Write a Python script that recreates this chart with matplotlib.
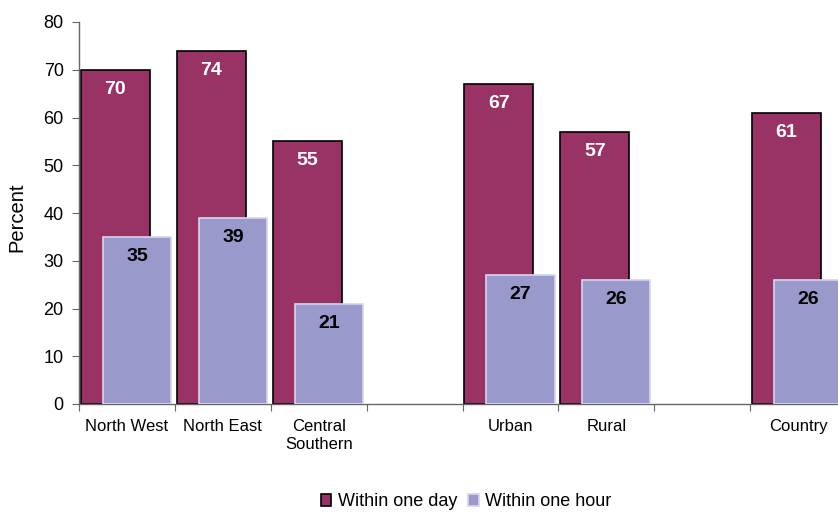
import numpy as np
import matplotlib.pyplot as plt

plt.rcParams['font.family'] = ['Liberation Sans', 'DejaVu Sans']

# regions, blank slots separate the groups
categories = ['North West', 'North East', 'Central\nSouthern', '',
              'Urban', 'Rural', '', 'Country']
within_day = [70, 74, 55, np.nan, 67, 57, np.nan, 61]
within_hour = [35, 39, 21, np.nan, 27, 26, np.nan, 26]
series_names = ['Within one day', 'Within one hour']

DAY_COLOR = '#993366'
HOUR_COLOR = '#9999CC'
AXIS_COLOR = '#666666'


def label_bars(ax, bars, values, color):
    for bar, v in zip(bars, values):
        if np.isnan(v):
            continue
        ax.annotate(f'{v:.0f}', (bar.get_x() + bar.get_width() / 2, v),
                    xytext=(0, -14), textcoords='offset points',
                    ha='center', va='center', fontsize=14,
                    fontweight='bold', color=color, zorder=5)


def main():
    fig = plt.figure(figsize=(8.38, 5.12), dpi=100)
    # axes run slightly past the right edge of the figure
    ax = fig.add_axes([79 / 838, 1 - 404 / 512, 767 / 838, 382 / 512])

    x = np.arange(len(categories))
    day_bars = ax.bar(x - 0.12, within_day, width=0.72, color=DAY_COLOR,
                      edgecolor='black', linewidth=1.2, zorder=2,
                      label=series_names[0])
    hour_bars = ax.bar(x + 0.105, within_hour, width=0.71, color=HOUR_COLOR,
                       edgecolor='#D6D6EE', linewidth=1.2, zorder=3,
                       label=series_names[1])

    label_bars(ax, day_bars, within_day, 'white')
    label_bars(ax, hour_bars, within_hour, 'black')

    ax.set_xlim(-0.5, len(categories) - 0.5)
    ax.set_ylim(0, 80)
    ax.set_yticks(range(0, 81, 10))
    ax.set_xticks(np.arange(len(categories) + 1) - 0.5)
    ax.set_xticklabels([])
    ax.set_xticks(x, categories, minor=True)
    ax.tick_params(axis='x', which='minor', length=0, pad=11, labelsize=12)
    ax.tick_params(axis='x', which='major', length=5, color=AXIS_COLOR,
                   direction='out')
    ax.tick_params(axis='y', length=5, color=AXIS_COLOR, pad=6,
                   labelsize=13)

    for side in ['top', 'right']:
        ax.spines[side].set_visible(False)
    for side in ['left', 'bottom']:
        ax.spines[side].set_color(AXIS_COLOR)
        ax.spines[side].set_linewidth(1)

    ax.set_ylabel('Percent', fontsize=14.5)
    ax.yaxis.set_label_coords(-0.068, 0.49)

    fig.legend(loc='center', bbox_to_anchor=(466 / 838, 1 - 502 / 512),
               ncol=2, frameon=False, fontsize=13, handlelength=0.6,
               handleheight=0.6, handletextpad=0.35, columnspacing=0.6)

    fig.savefig('out.png', dpi=100)


if __name__ == '__main__':
    main()
